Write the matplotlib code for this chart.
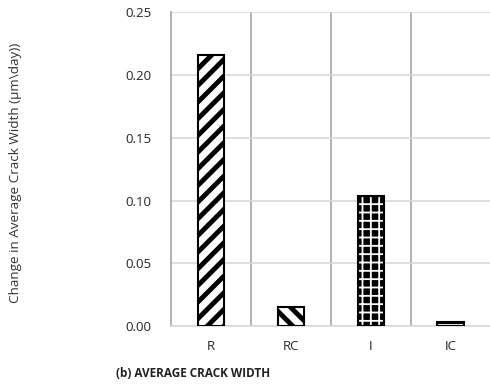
import matplotlib
matplotlib.use("Agg")
import matplotlib.pyplot as plt

plt.rcParams['font.family'] = ['Open Sans', 'DejaVu Sans']

# data
groups = ['R', 'RC', 'I', 'IC']
crack_rate = [0.216, 0.0155, 0.104, 0.0035]
y_ticks = [0.00, 0.05, 0.10, 0.15, 0.20, 0.25]

fig = plt.figure(figsize=(4.9, 3.89), dpi=100)
ax = fig.add_axes([0.349, 0.162, 0.652, 0.806])

x = list(range(len(groups)))
w = 0.33

# bar 1: thick forward diagonal
plt.rcParams['hatch.linewidth'] = 3.5
ax.bar(x[0], crack_rate[0], w, facecolor='white', edgecolor='black', hatch='//', linewidth=1.5, zorder=3)
# bar 2: backward diagonal
ax.bar(x[1], crack_rate[1], w, facecolor='white', edgecolor='black', hatch='\\\\', linewidth=1.5, zorder=3)
# bars 3 and 4: black with white grid
plt.rcParams['hatch.linewidth'] = 1.3
ax.bar(x[2], crack_rate[2], w, facecolor='black', edgecolor='white', hatch='++', linewidth=0, zorder=3)
ax.bar(x[3], crack_rate[3], w, facecolor='black', edgecolor='white', hatch='-', linewidth=0, zorder=3)
ax.bar(x[2:], crack_rate[2:], w, fill=False, edgecolor='black', linewidth=1.5, zorder=4)

ax.set_xlim(-0.5, len(groups) - 0.5)
ax.set_ylim(0, 0.25)
ax.set_yticks(y_ticks)
ax.set_yticklabels([f'{v:.2f}' for v in y_ticks])
ax.set_xticks(x)
ax.set_xticklabels(groups)
ax.tick_params(length=0, labelsize=9.5, colors='#262626', pad=10)
ax.tick_params(axis='y', pad=14)

ax.yaxis.grid(True, color='#d9d9d9', linewidth=1.2, zorder=0)
for sep in [0.5, 1.5, 2.5]:
    ax.axvline(sep, color='#a6a6a6', linewidth=1.2, zorder=1)

for s in ['top', 'right']:
    ax.spines[s].set_visible(False)
ax.spines['left'].set_color('#a6a6a6')
ax.spines['left'].set_linewidth(1.2)
ax.spines['bottom'].set_color('#d9d9d9')
ax.spines['bottom'].set_linewidth(1.2)

fig.text(0.031, 0.555, 'Change in Average Crack Width (μm\\day))', rotation=90,
         ha='center', va='center', fontsize=9.7, color='#333333')
fig.text(0.237, 0.041, '(b) AVERAGE CRACK WIDTH', ha='left', va='center',
         fontsize=8.5, fontweight='bold', color='#222222')

fig.savefig('out.png', dpi=100)
